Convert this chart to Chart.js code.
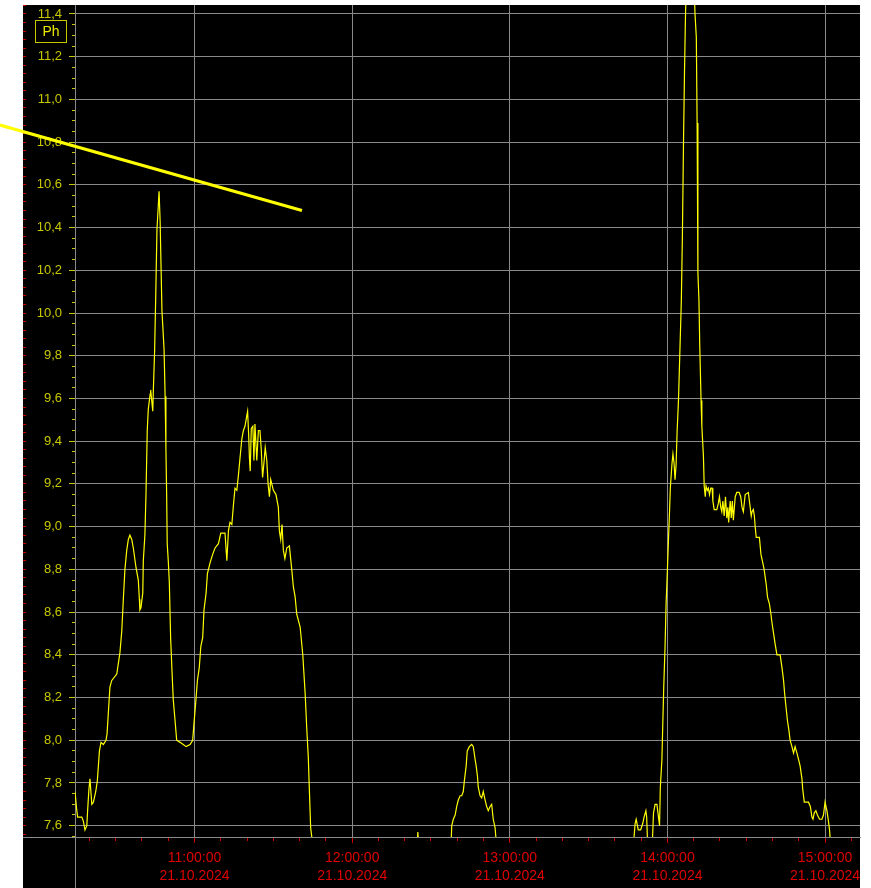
<!DOCTYPE html>
<html>
<head>
<meta charset="utf-8">
<title>Ph</title>
<script src="https://cdn.jsdelivr.net/npm/chart.js@4.4.1/dist/chart.umd.min.js"></script>
<style>
  html, body { margin: 0; padding: 0; background: #fff; }
  canvas { display: block; }
</style>
</head>
<body>
<canvas id="phChart" width="871" height="888"></canvas>
<script>
// time in minutes since 00:00 on 21.10.2024
var phTime = [
  614.5, 615.1, 615.5, 617.1, 617.7, 618.3, 619.0, 619.3, 619.8, 620.2,
  620.9, 621.5, 622.4, 623.0, 623.8, 624.4, 625.3, 626.3, 626.7, 627.2,
  627.8, 628.5, 630.4, 631.0, 631.6, 632.3, 632.9, 633.5, 634.2, 634.8,
  635.4, 636.1, 636.7, 637.7, 638.6, 639.0, 639.2, 639.6, 640.3, 640.5,
  641.1, 641.5, 642.0, 642.4, 643.1, 643.3, 643.7, 644.1, 644.3, 644.8,
  645.2, 645.7, 646.5, 646.9, 647.6, 648.4, 648.8, 649.1, 649.4, 649.6,
  650.0, 650.4, 650.9, 651.4, 651.9, 652.6, 653.2, 654.5, 655.7, 656.8,
  658.3, 659.3, 659.8, 660.6, 661.1, 661.8, 662.4, 663.1, 663.6, 664.4,
  664.9, 665.9, 666.9, 667.8, 669.1, 670.0, 671.0, 671.6, 672.3, 672.9,
  673.5, 674.2, 674.8, 675.4, 676.1, 676.7, 677.3, 678.0, 678.6, 679.2,
  679.9, 680.2, 680.6, 680.9, 681.2, 681.6, 682.2, 682.6, 683.0, 683.7,
  684.3, 684.9, 685.4, 685.9, 686.5, 686.9, 687.5, 688.0, 688.5, 689.0,
  690.0, 691.0, 691.9, 692.3, 692.8, 693.3, 693.8, 694.4, 695.1, 696.1,
  697.0, 697.6, 698.3, 698.9, 700.2, 701.2, 702.1, 702.7, 703.3, 703.7,
  704.2, 704.6, 705.1, 725.0, 744.6, 745.0, 745.5, 757.6, 757.9, 758.5,
  759.2, 759.8, 760.4, 761.1, 761.7, 762.3, 762.7, 763.4, 763.8, 764.6,
  765.5, 766.1, 766.8, 767.2, 767.7, 768.0, 768.7, 769.3, 769.9, 770.6,
  771.2, 771.8, 772.5, 773.1, 773.7, 774.4, 775.0, 776.3, 800.0, 826.5,
  827.0, 827.7, 828.1, 828.9, 829.8, 830.6, 831.1, 831.8, 832.1, 832.5,
  833.4, 834.2, 834.7, 835.3, 836.0, 836.6, 837.0, 837.3, 837.9, 838.2,
  838.6, 839.1, 839.5, 840.0, 840.4, 840.8, 841.1, 841.7, 842.1, 842.5,
  842.9, 843.3, 843.7, 844.2, 845.3, 845.7, 846.1, 846.5, 846.9, 847.3,
  848.7, 850.2, 850.5, 851.0, 851.3, 851.6, 852.0, 852.3, 852.8, 853.1,
  853.7, 854.0, 854.4, 854.7, 855.2, 855.6, 856.0, 856.5, 857.0, 857.3,
  857.8, 858.8, 859.4, 859.8, 860.3, 860.7, 861.1, 861.6, 862.1, 862.6,
  863.0, 863.3, 863.9, 864.3, 864.7, 865.1, 865.8, 866.4, 867.3, 867.9,
  868.4, 868.9, 869.6, 870.8, 871.5, 871.9, 872.2, 872.7, 873.1, 873.4,
  873.8, 875.0, 875.6, 876.3, 876.8, 877.6, 878.1, 878.8, 879.4, 879.8,
  880.4, 881.0, 881.7, 882.9, 883.6, 884.2, 884.6, 885.1, 885.7, 886.2,
  886.7, 887.4, 888.0, 888.6, 889.3, 889.9, 890.5, 891.2, 891.5, 892.1,
  893.7, 894.4, 895.0, 895.4, 895.9, 896.5, 897.1, 897.9, 898.8, 899.4,
  900.0, 900.7, 901.3, 901.7, 902.2, 903.8, 913.3
];
var phValue = [
  7.76, 7.68, 7.64, 7.64, 7.62, 7.58, 7.60, 7.67, 7.77, 7.82,
  7.70, 7.71, 7.76, 7.81, 7.95, 7.99, 7.98, 8.00, 8.03, 8.13,
  8.25, 8.28, 8.31, 8.36, 8.41, 8.51, 8.66, 8.80, 8.89, 8.94,
  8.96, 8.94, 8.90, 8.81, 8.75, 8.66, 8.61, 8.62, 8.69, 8.84,
  8.96, 9.14, 9.45, 9.55, 9.62, 9.64, 9.59, 9.54, 9.63, 9.82,
  10.06, 10.39, 10.57, 10.43, 10.01, 9.83, 9.61, 9.37, 9.14, 8.92,
  8.84, 8.74, 8.48, 8.33, 8.19, 8.09, 8.00, 7.99, 7.98, 7.97,
  7.98, 8.00, 8.08, 8.20, 8.28, 8.34, 8.44, 8.48, 8.61, 8.69,
  8.78, 8.83, 8.87, 8.90, 8.92, 8.97, 8.97, 8.97, 8.84, 8.98,
  9.02, 9.01, 9.10, 9.18, 9.17, 9.24, 9.32, 9.41, 9.45, 9.47,
  9.52, 9.54, 9.43, 9.32, 9.26, 9.46, 9.47, 9.31, 9.48, 9.31,
  9.45, 9.45, 9.36, 9.23, 9.31, 9.37, 9.31, 9.20, 9.14, 9.22,
  9.17, 9.15, 9.09, 8.98, 8.94, 9.01, 8.89, 8.85, 8.90, 8.91,
  8.80, 8.72, 8.67, 8.59, 8.53, 8.40, 8.22, 8.06, 7.92, 7.77,
  7.59, 7.55, 7.40, 7.40, 7.48, 7.57, 7.48, 7.50, 7.60, 7.63,
  7.65, 7.69, 7.72, 7.74, 7.74, 7.76, 7.81, 7.88, 7.95, 7.97,
  7.98, 7.97, 7.91, 7.88, 7.83, 7.78, 7.74, 7.73, 7.76, 7.72,
  7.69, 7.67, 7.69, 7.70, 7.63, 7.59, 7.50, 7.40, 7.40, 7.45,
  7.50, 7.61, 7.63, 7.58, 7.58, 7.61, 7.64, 7.67, 7.64, 7.50,
  7.45, 7.50, 7.66, 7.70, 7.70, 7.64, 7.60, 7.78, 7.91, 8.06,
  8.25, 8.44, 8.64, 8.80, 8.94, 9.07, 9.18, 9.29, 9.34, 9.30,
  9.22, 9.29, 9.45, 9.59, 10.06, 10.36, 10.78, 11.13, 11.41, 11.55,
  11.70, 11.52, 11.40, 11.29, 10.89, 10.19, 10.06, 9.85, 9.59, 9.47,
  9.33, 9.19, 9.14, 9.19, 9.17, 9.18, 9.15, 9.18, 9.18, 9.12,
  9.08, 9.08, 9.11, 9.14, 9.09, 9.07, 9.12, 9.05, 9.14, 9.04,
  9.09, 9.02, 9.12, 9.04, 9.12, 9.03, 9.14, 9.16, 9.16, 9.14,
  9.09, 9.07, 9.15, 9.16, 9.09, 9.05, 9.07, 9.08, 9.05, 9.00,
  8.95, 8.95, 8.87, 8.83, 8.80, 8.73, 8.67, 8.64, 8.59, 8.55,
  8.50, 8.45, 8.40, 8.40, 8.34, 8.28, 8.22, 8.16, 8.09, 8.05,
  8.00, 7.97, 7.94, 7.97, 7.94, 7.91, 7.88, 7.82, 7.77, 7.71,
  7.71, 7.69, 7.64, 7.63, 7.66, 7.67, 7.65, 7.63, 7.63, 7.65,
  7.71, 7.67, 7.62, 7.58, 7.50, 7.40, 7.40
];

// the thick yellow marker line
var markerTime = [585.9, 700.9];
var markerValue = [10.88, 10.48];

var hourTicks = [660, 720, 780, 840, 900];
var dateLabel = '21.10.2024';
var seriesLabel = 'Ph';

var xMin = 614.5, xMax = 913.3;
var yMin = 7.547, yMax = 11.442;

var gridGray = '#8a8a8a';
var tickRed = '#d00000';
var labelRed = '#e00000';
var yellowText = '#c8c800';
var lineYellow = '#ffff00';
var fontFamily = "'Liberation Sans', Arial, sans-serif";

function toPoints(t, v) {
  var pts = [];
  for (var i = 0; i < t.length; i++) {
    pts.push({ x: t[i], y: v[i] });
  }
  return pts;
}

function isMajorY(v) {
  return Math.abs(v * 5 - Math.round(v * 5)) < 1e-6;
}

function isHour(v) {
  return hourTicks.indexOf(Math.round(v)) >= 0 && Math.abs(v - Math.round(v)) < 1e-6;
}

function tickValue(c) {
  return c.tick ? c.tick.value : 0;
}

var framePlugin = {
  id: 'frame',
  beforeDraw: function (chart) {
    var ctx = chart.ctx;
    ctx.save();
    ctx.fillStyle = '#ffffff';
    ctx.fillRect(0, 0, chart.width, chart.height);
    ctx.fillStyle = '#000000';
    ctx.fillRect(23, 5, chart.chartArea.right - 23, chart.height - 5);
    ctx.restore();
  },
  beforeDatasetsDraw: function (chart) {
    var ctx = chart.ctx;
    var a = chart.chartArea;
    ctx.save();
    ctx.strokeStyle = gridGray;
    ctx.lineWidth = 1;
    ctx.beginPath();
    ctx.moveTo(23, Math.round(a.bottom) + 0.5);
    ctx.lineTo(a.left, Math.round(a.bottom) + 0.5);
    ctx.moveTo(Math.round(a.left) + 0.5, a.bottom);
    ctx.lineTo(Math.round(a.left) + 0.5, chart.height);
    ctx.stroke();
    ctx.restore();
  },
  afterDraw: function (chart) {
    var ctx = chart.ctx;
    ctx.save();
    ctx.fillStyle = '#000000';
    ctx.fillRect(35, 20, 31, 22);
    ctx.strokeStyle = yellowText;
    ctx.lineWidth = 1;
    ctx.strokeRect(35.5, 20.5, 31, 22);
    ctx.fillStyle = '#e8e800';
    ctx.font = '14px ' + fontFamily;
    ctx.textAlign = 'center';
    ctx.textBaseline = 'middle';
    ctx.fillText(seriesLabel, 51, 32);
    ctx.restore();
  }
};

var ctx = document.getElementById('phChart').getContext('2d');
var myChart = new Chart(ctx, {
  type: 'line',
  data: {
    datasets: [{
      label: seriesLabel,
      data: toPoints(phTime, phValue),
      borderColor: lineYellow,
      borderWidth: 1.2,
      pointRadius: 0,
      tension: 0,
      clip: 0,
      xAxisID: 'x',
      yAxisID: 'y'
    }, {
      label: 'marker',
      data: toPoints(markerTime, markerValue),
      borderColor: lineYellow,
      borderWidth: 3,
      pointRadius: 0,
      clip: false,
      xAxisID: 'x',
      yAxisID: 'y'
    }]
  },
  options: {
    responsive: false,
    animation: false,
    devicePixelRatio: 1,
    layout: { padding: { left: 23, top: 5, right: 11, bottom: 0 } },
    plugins: {
      legend: { display: false },
      tooltip: { enabled: false }
    },
    scales: {
      x: {
        type: 'linear',
        position: 'bottom',
        min: xMin,
        max: xMax,
        afterFit: function (s) { s.height = 51; s.paddingLeft = 0; s.paddingRight = 0; },
        border: { color: gridGray, width: 1 },
        grid: {
          color: function (c) { return isHour(tickValue(c)) ? gridGray : 'transparent'; },
          tickColor: tickRed,
          tickLength: 6,
          tickBorderDash: function (c) { return isHour(tickValue(c)) ? [] : [3, 10]; }
        },
        ticks: {
          stepSize: 10,
          includeBounds: false,
          autoSkip: false,
          maxRotation: 0,
          minRotation: 0,
          padding: 6,
          color: labelRed,
          font: { family: fontFamily, size: 14, lineHeight: 1.27 },
          callback: function (value) {
            if (!isHour(value)) return '';
            var h = Math.round(value / 60);
            return [(h < 10 ? '0' : '') + h + ':00:00', dateLabel];
          }
        }
      },
      y: {
        type: 'linear',
        position: 'left',
        weight: 0,
        min: yMin,
        max: yMax,
        afterFit: function (s) { s.width = 49; s.paddingTop = 0; s.paddingBottom = 0; },
        border: { color: gridGray, width: 1 },
        grid: {
          color: function (c) { return isMajorY(tickValue(c)) ? gridGray : 'transparent'; },
          tickColor: yellowText,
          tickLength: 6,
          tickBorderDash: function (c) { return isMajorY(tickValue(c)) ? [] : [3, 3]; },
          tickBorderDashOffset: function (c) { return isMajorY(tickValue(c)) ? 0 : 3; }
        },
        ticks: {
          stepSize: 0.05,
          includeBounds: false,
          autoSkip: false,
          padding: 7,
          color: yellowText,
          font: { family: fontFamily, size: 13 },
          callback: function (value) {
            if (!isMajorY(value)) return '';
            return value.toFixed(1).replace('.', ',');
          }
        }
      },
      y2: {
        type: 'linear',
        position: 'left',
        weight: 1,
        min: yMin,
        max: yMax,
        afterFit: function (s) { s.width = 3; s.paddingTop = 0; s.paddingBottom = 0; },
        border: { display: false },
        grid: {
          drawOnChartArea: false,
          tickColor: tickRed,
          tickLength: 3
        },
        ticks: {
          display: false,
          stepSize: 0.04,
          includeBounds: false,
          autoSkip: false
        }
      }
    }
  },
  plugins: [framePlugin]
});
</script>
</body>
</html>
